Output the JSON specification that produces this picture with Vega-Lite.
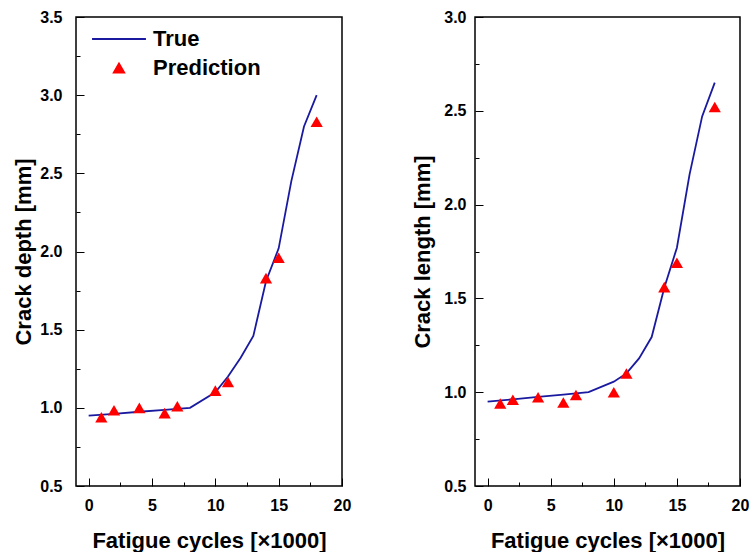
{
  "$schema": "https://vega.github.io/schema/vega-lite/v6.json",
  "padding": {"left": 12, "top": 8, "right": 0, "bottom": 0},
  "config": {
    "font": "Liberation Sans",
    "view": {"stroke": "#000000", "strokeWidth": 1.5},
    "axis": {
      "domain": false,
      "grid": false,
      "labelFont": "Liberation Sans",
      "labelFontWeight": "bold",
      "labelFontSize": 16,
      "labelColor": "#000000",
      "titleFont": "Liberation Sans",
      "titleFontWeight": "bold",
      "titleFontSize": 22,
      "titleColor": "#000000"
    },
    "legend": {
      "labelFont": "Liberation Sans",
      "labelFontWeight": "bold",
      "labelFontSize": 22,
      "labelColor": "#000000"
    },
    "concat": {"spacing": 59}
  },
  "datasets": {
    "depthTrue": [
      {"cycles": 0, "value": 0.95, "series": "True"},
      {"cycles": 2, "value": 0.962, "series": "True"},
      {"cycles": 4, "value": 0.975, "series": "True"},
      {"cycles": 6, "value": 0.987, "series": "True"},
      {"cycles": 8, "value": 1.0, "series": "True"},
      {"cycles": 10, "value": 1.1, "series": "True"},
      {"cycles": 11, "value": 1.2, "series": "True"},
      {"cycles": 12, "value": 1.32, "series": "True"},
      {"cycles": 13, "value": 1.46, "series": "True"},
      {"cycles": 14, "value": 1.81, "series": "True"},
      {"cycles": 15, "value": 2.02, "series": "True"},
      {"cycles": 16, "value": 2.45, "series": "True"},
      {"cycles": 17, "value": 2.8, "series": "True"},
      {"cycles": 18, "value": 3.0, "series": "True"}
    ],
    "depthPred": [
      {"cycles": 1, "value": 0.94, "series": "Prediction"},
      {"cycles": 2, "value": 0.985, "series": "Prediction"},
      {"cycles": 4, "value": 1.0, "series": "Prediction"},
      {"cycles": 6, "value": 0.966, "series": "Prediction"},
      {"cycles": 7, "value": 1.01, "series": "Prediction"},
      {"cycles": 10, "value": 1.11, "series": "Prediction"},
      {"cycles": 11, "value": 1.165, "series": "Prediction"},
      {"cycles": 14, "value": 1.83, "series": "Prediction"},
      {"cycles": 15, "value": 1.96, "series": "Prediction"},
      {"cycles": 18, "value": 2.83, "series": "Prediction"}
    ],
    "lengthTrue": [
      {"cycles": 0, "value": 0.95, "series": "True"},
      {"cycles": 2, "value": 0.962, "series": "True"},
      {"cycles": 4, "value": 0.975, "series": "True"},
      {"cycles": 6, "value": 0.987, "series": "True"},
      {"cycles": 8, "value": 1.0, "series": "True"},
      {"cycles": 10, "value": 1.056, "series": "True"},
      {"cycles": 11, "value": 1.1, "series": "True"},
      {"cycles": 12, "value": 1.18, "series": "True"},
      {"cycles": 13, "value": 1.294, "series": "True"},
      {"cycles": 14, "value": 1.557, "series": "True"},
      {"cycles": 15, "value": 1.77, "series": "True"},
      {"cycles": 16, "value": 2.16, "series": "True"},
      {"cycles": 17, "value": 2.47, "series": "True"},
      {"cycles": 18, "value": 2.65, "series": "True"}
    ],
    "lengthPred": [
      {"cycles": 1, "value": 0.94, "series": "Prediction"},
      {"cycles": 2, "value": 0.96, "series": "Prediction"},
      {"cycles": 4, "value": 0.973, "series": "Prediction"},
      {"cycles": 6, "value": 0.945, "series": "Prediction"},
      {"cycles": 7, "value": 0.985, "series": "Prediction"},
      {"cycles": 10, "value": 1.0, "series": "Prediction"},
      {"cycles": 11, "value": 1.1, "series": "Prediction"},
      {"cycles": 14, "value": 1.56, "series": "Prediction"},
      {"cycles": 15, "value": 1.69, "series": "Prediction"},
      {"cycles": 18, "value": 2.52, "series": "Prediction"}
    ]
  },
  "hconcat": [
    {
      "width": 266,
      "height": 469,
      "layer": [
        {
          "data": {"name": "depthTrue"},
          "mark": {"type": "line", "strokeWidth": 1.8},
          "encoding": {
            "x": {
              "field": "cycles", "type": "quantitative",
              "scale": {"domain": [-1, 20], "nice": false, "zero": false},
              "axis": {
                "title": "Fatigue cycles [×1000]", "orient": "bottom",
                "tickCount": 5, "format": "d",
                "labelFlush": false, "tickSize": -8, "tickColor": "#000000",
                "labelPadding": 19, "titlePadding": 17
              }
            },
            "y": {
              "field": "value", "type": "quantitative",
              "scale": {"domain": [0.5, 3.5], "nice": false, "zero": false},
              "axis": {
                "title": "Crack depth [mm]", "orient": "left",
                "tickCount": 6, "format": ".1f",
                "tickSize": -8, "tickColor": "#000000",
                "labelPadding": 22, "titlePadding": 4
              }
            },
            "color": {
              "field": "series", "type": "nominal",
              "scale": {"domain": ["True", "Prediction"], "range": ["#1a1aa0", "#ff0000"]},
              "legend": {
                "title": null,
                "orient": "none",
                "legendX": 32,
                "legendY": 11,
                "symbolSize": 150,
                "labelOffset": 23,
                "rowPadding": 7,
                "encode": {
                  "symbols": {
                    "update": {
                      "shape": {"signal": "datum.value === 'True' ? 'M-4.4,0H4.4' : 'triangle-up'"},
                      "size": {"signal": "datum.value === 'True' ? 150 : 110"},
                      "fill": {"signal": "datum.value === 'True' ? 'transparent' : '#ff0000'"},
                      "stroke": {"signal": "datum.value === 'True' ? '#1a1aa0' : 'transparent'"},
                      "strokeWidth": {"value": 1.8},
                      "opacity": {"value": 1}
                    }
                  }
                }
              }
            }
          }
        },
        {
          "data": {"name": "depthPred"},
          "mark": {"type": "point", "shape": "triangle-up", "filled": true, "size": 150, "opacity": 1},
          "encoding": {
            "x": {
              "field": "cycles", "type": "quantitative",
              "axis": {
                "title": null, "orient": "bottom", "labels": false,
                "values": [2.5, 7.5, 12.5, 17.5],
                "tickSize": -4, "tickColor": "#000000"
              }
            },
            "y": {
              "field": "value", "type": "quantitative",
              "axis": {
                "title": null, "orient": "left", "labels": false,
                "values": [0.75, 1.25, 1.75, 2.25, 2.75, 3.25],
                "tickSize": -4, "tickColor": "#000000"
              }
            },
            "color": {
              "field": "series", "type": "nominal",
              "scale": {"domain": ["True", "Prediction"], "range": ["#1a1aa0", "#ff0000"]}
            }
          }
        }
      ],
      "resolve": {"axis": {"x": "independent", "y": "independent"}}
    },
    {
      "width": 265,
      "height": 469,
      "layer": [
        {
          "data": {"name": "lengthTrue"},
          "mark": {"type": "line", "strokeWidth": 1.8},
          "encoding": {
            "x": {
              "field": "cycles", "type": "quantitative",
              "scale": {"domain": [-1, 20], "nice": false, "zero": false},
              "axis": {
                "title": "Fatigue cycles [×1000]", "orient": "bottom",
                "tickCount": 5, "format": "d",
                "labelFlush": false, "tickSize": -8, "tickColor": "#000000",
                "labelPadding": 19, "titlePadding": 17
              }
            },
            "y": {
              "field": "value", "type": "quantitative",
              "scale": {"domain": [0.5, 3.0], "nice": false, "zero": false},
              "axis": {
                "title": "Crack length [mm]", "orient": "left",
                "tickCount": 5, "format": ".1f",
                "tickSize": -8, "tickColor": "#000000",
                "labelPadding": 17, "titlePadding": 9
              }
            },
            "color": {
              "field": "series", "type": "nominal",
              "scale": {"domain": ["True", "Prediction"], "range": ["#1a1aa0", "#ff0000"]},
              "legend": null
            }
          }
        },
        {
          "data": {"name": "lengthPred"},
          "mark": {"type": "point", "shape": "triangle-up", "filled": true, "size": 150, "opacity": 1},
          "encoding": {
            "x": {
              "field": "cycles", "type": "quantitative",
              "axis": {
                "title": null, "orient": "bottom", "labels": false,
                "values": [2.5, 7.5, 12.5, 17.5],
                "tickSize": -4, "tickColor": "#000000"
              }
            },
            "y": {
              "field": "value", "type": "quantitative",
              "axis": {
                "title": null, "orient": "left", "labels": false,
                "values": [0.75, 1.25, 1.75, 2.25, 2.75],
                "tickSize": -4, "tickColor": "#000000"
              }
            },
            "color": {
              "field": "series", "type": "nominal",
              "scale": {"domain": ["True", "Prediction"], "range": ["#1a1aa0", "#ff0000"]},
              "legend": null
            }
          }
        }
      ],
      "resolve": {"axis": {"x": "independent", "y": "independent"}}
    }
  ],
  "resolve": {"scale": {"x": "independent", "y": "independent", "color": "shared"}}
}
